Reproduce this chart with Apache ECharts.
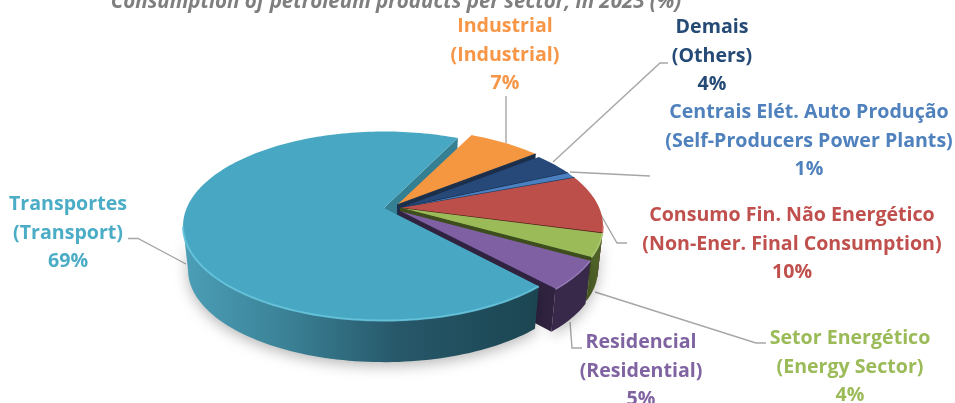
<!DOCTYPE html>
<html><head><meta charset="utf-8">
<style>html,body{margin:0;padding:0;background:#fff}#c{width:955px;height:403px}</style>
<script src="https://cdn.jsdelivr.net/npm/echarts@6/dist/echarts.min.js"></script>
</head><body><div id="c"></div>
<script>
// ---- data ----
const namesPt = ['Transportes','Industrial','Demais','Centrais Elét. Auto Produção','Consumo Fin. Não Energético','Setor Energético','Residencial'];
const namesEn = ['(Transport)','(Industrial)','(Others)','(Self-Producers Power Plants)','(Non-Ener. Final Consumption)','(Energy Sector)','(Residential)'];
const shares = [69,7,4,1,10,4,5];
const titleText = 'Consumption of petroleum products per sector, in 2023 (%)';

// ---- styles / layout ----
const topColors  = ['#48a8c3','#f59640','#26497a','#4a7fc0','#bd4f4b','#9abb58','#7f60a3'];
const sideColors = ['#2f6c80','#a8601f','#16304f','#2c5488','#632523','#4f6228','#38294a'];
const wallColors = ['#357f92','#1c2f4a','#10243e','#1f3c62','#4a1a18','#3d4d1e','#2f2340'];
const rimColors  = ['#66c3dc','#f9ad6c','#3d6598','#6f9ad0','#d0706c','#b3cf7a','#9a80bc'];
const labelColors= ['#4bacc6','#f79646','#254a75','#4f81bd','#c0504d','#9bbb59','#8064a2'];
const labelPos = [[68,233],[505,55],[712,56],[809,141],[792,244],[850,367],[641,371]];
const leaders = [
  [[128,238.5],[138,238.5],[186,264]],
  [[506,96],[506,143]],
  [[668,63],[660,63],[553,162]],
  [[570,172],[650,176]],
  [[598,210],[617,243],[627,243]],
  [[595,292],[756,343],[766,343]],
  [[570,322],[572,348],[582,348]]
];
const offsets = [[-16,0],[-3,-3],[0,0],[0,0],[0,0],[0,0],[-1,3]];
const radiusScale = [0.99,1,1,1,1,1,1];
const G = {cx:400, cy:226, rx:203, ry:94.5, apexLift:18, depth:44, bottomScale:0.975, start:64};
const FONT = '"Open Sans", sans-serif';

// disc -> image mapping with perspective: lines through the disc centre stay lines through the apex
const a = G.apexLift/G.ry;
const b = (1-Math.sqrt(1-a*a))/a;
function phi(deg){
  const t = deg*Math.PI/180, x = Math.cos(t), y = Math.sin(t);
  const nr=x, ni=y+b, dr=1+b*y, di=-b*x;
  const m=dr*dr+di*di;
  return [(nr*dr+ni*di)/m,(ni*dr-nr*di)/m];
}
function rimPt(deg,i,lower){
  const w=phi(deg), s=lower?G.bottomScale:1, o=offsets[i];
  return [G.cx+o[0]+G.rx*radiusScale[i]*s*w[0], G.cy+o[1]-G.ry*s*w[1]+(lower?G.depth:0)];
}
function apexPt(i,lower){
  const o=offsets[i];
  return [G.cx+o[0], G.cy-G.apexLift+o[1]+(lower?G.depth*0.92:0)];
}
const total = shares.reduce((p,c)=>p+c,0);
function spans(i){
  if(i===0) return [G.start, G.start+shares[0]/total*360];
  let acc=0; for(let k=1;k<i;k++) acc+=shares[k];
  return [G.start-acc/total*360, G.start-(acc+shares[i])/total*360];
}
function angles(i){
  const s=spans(i), n=Math.max(6,Math.ceil(Math.abs(s[1]-s[0])/1.5)), out=[];
  for(let k=0;k<=n;k++) out.push(s[0]+(s[1]-s[0])*k/n);
  return out;
}
function arc(i,lower){ return angles(i).map(d=>rimPt(d,i,lower)); }
// the outer side only shows on the near half of the rim
function nearAngles(i){ return angles(i).filter(d=>phi(d)[1]<=0.02); }
function sliceShapes(i){
  const top=arc(i,false), bot=arc(i,true), kids=[];
  const near=nearAngles(i);
  const nt=near.map(d=>rimPt(d,i,false)), nb=near.map(d=>rimPt(d,i,true));
  const shadow={shadowBlur:14,shadowColor:'rgba(0,0,0,0.28)',shadowOffsetY:4};
  if(near.length>1){
    const fill = i===0 ? new echarts.graphic.LinearGradient(0,0,1,0,[
      {offset:0,color:'#4b9fb7'},{offset:0.3,color:'#3a8095'},{offset:0.6,color:'#27586a'},{offset:1,color:'#1b4551'}]) : sideColors[i];
    kids.push({type:'polygon',shape:{points:nt.concat(nb.slice().reverse())},style:Object.assign({fill},shadow)});
  }
  if(i!==0){
    kids.push({type:'polygon',shape:{points:[apexPt(i,false),top[top.length-1],bot[bot.length-1],apexPt(i,true)]},style:{fill:wallColors[i]}});
  }
  kids.push({type:'polygon',shape:{points:[apexPt(i,false)].concat(top)},style:{fill:topColors[i]}});
  if(near.length>1) kids.push({type:'polyline',shape:{points:nt},style:{fill:null,stroke:rimColors[i],lineWidth:i===0?2:1.5,opacity:0.9}});
  if(i!==0) kids.push({type:'line',shape:{x1:apexPt(i,false)[0],y1:apexPt(i,false)[1],x2:top[top.length-1][0],y2:top[top.length-1][1]},style:{stroke:wallColors[i],lineWidth:1.2}});
  return kids;
}
const drawOrder=[1,2,3,4,5,6,0];

const chart=echarts.init(document.getElementById('c'),null,{renderer:'canvas'});
const graphics=[];
leaders.forEach(p=>graphics.push({type:'polyline',z:1,shape:{points:p},style:{fill:null,stroke:'#a6a6a6',lineWidth:1.4}}));
namesPt.forEach((n,i)=>graphics.push({type:'text',z:5,style:{
  text:n+'\n'+namesEn[i]+'\n'+shares[i]+'%',x:labelPos[i][0],y:labelPos[i][1],align:'center',verticalAlign:'middle',
  fill:labelColors[i],font:'bold 19.6px '+FONT,lineHeight:28.7}}));

chart.setOption({
  animation:false,
  backgroundColor:'#fff',
  title:{text:titleText,left:391,top:-13,textAlign:'center',textStyle:{fontFamily:FONT,fontSize:20.5,fontWeight:'bold',fontStyle:'italic',color:'#7f7f7f'}},
  graphic:graphics,
  series:[
    {type:'custom',coordinateSystem:'none',silent:true,z:2,
      data:[{name:namesPt[0],value:shares[0]}],
      renderItem(){
        const top=arc(0,false), bot=arc(0,true);
        return {type:'polygon',shape:{points:[apexPt(0,false),top[0],bot[0],apexPt(0,true)]},style:{fill:wallColors[0]}};
      }},
    {type:'custom',coordinateSystem:'none',silent:true,z:3,
      data:drawOrder.map(i=>({name:namesPt[i],value:[i,shares[i]]})),
      renderItem(params,api){
        return {type:'group',children:sliceShapes(api.value(0))};
      }}
  ]
});
</script></body></html>
